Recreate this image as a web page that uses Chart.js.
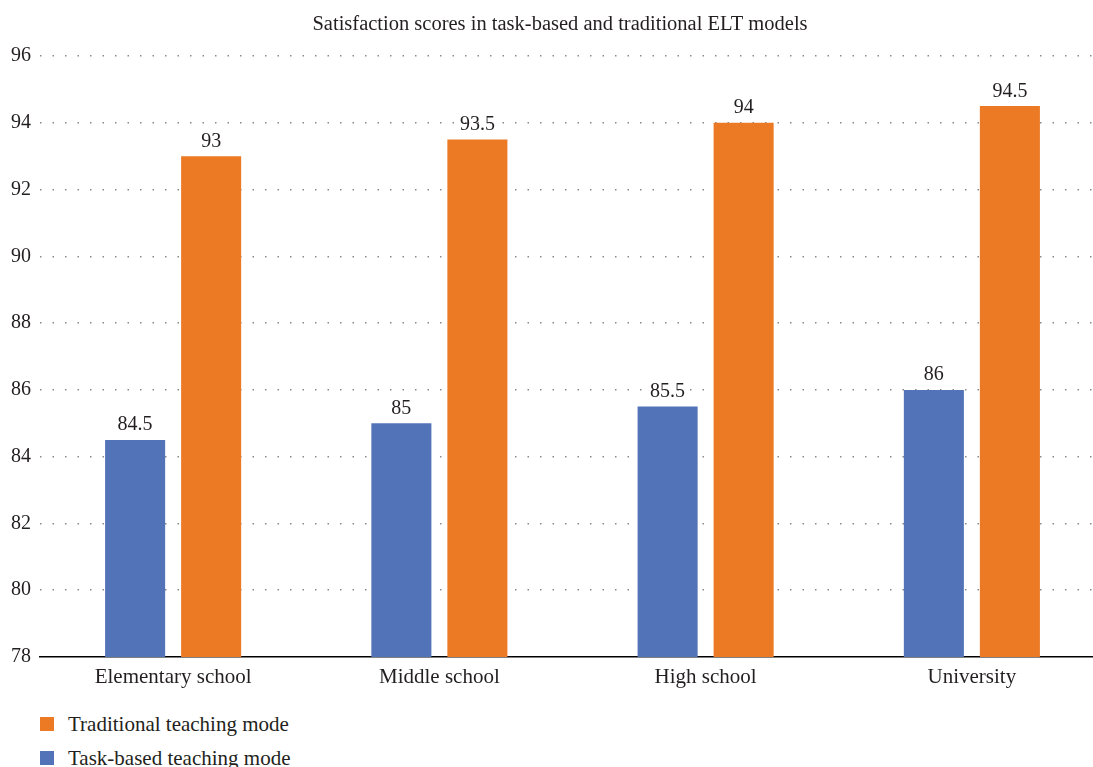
<!DOCTYPE html>
<html>
<head>
<meta charset="utf-8">
<script src="https://cdn.jsdelivr.net/npm/chart.js@4"></script>
<style>
  html, body { margin: 0; padding: 0; background: #fff; }
  #page { position: relative; width: 1093px; height: 767px; overflow: hidden; }
  #box { position: absolute; left: 0; top: 0; width: 1120px; height: 700px; }
  #legend { position: absolute; left: 40px; top: 707px; font-family: "Liberation Serif", serif; font-size: 21px; color: #231f20; }
  #legend .item { display: flex; align-items: center; height: 34px; }
  #legend .sw { width: 14px; height: 14px; margin-right: 14px; }
</style>
</head>
<body>
<div id="page">
  <div id="box"><canvas id="chart"></canvas></div>
  <div id="legend"></div>
</div>
<script>
const titleText = "Satisfaction scores in task-based and traditional ELT models";
const categories = ["Elementary school", "Middle school", "High school", "University"];
const taskBased = [84.5, 85, 85.5, 86];
const traditional = [93, 93.5, 94, 94.5];
const seriesNames = ["Task-based teaching mode", "Traditional teaching mode"];
const seriesColors = ["#5373b9", "#ec7a25"];
const yMin = 78, yMax = 96, yStep = 2;

const serif = "'Liberation Serif', 'Times New Roman', serif";
const textColor = "#231f20";

// value labels above each bar
const valueLabels = {
  id: "valueLabels",
  afterDatasetsDraw(chart) {
    const ctx = chart.ctx;
    ctx.save();
    ctx.font = "20px " + serif;
    ctx.fillStyle = textColor;
    ctx.textAlign = "center";
    ctx.textBaseline = "alphabetic";
    chart.data.datasets.forEach((ds, i) => {
      chart.getDatasetMeta(i).data.forEach((bar, j) => {
        ctx.fillText(String(ds.data[j]), bar.x, bar.y - 9.5);
      });
    });
    ctx.restore();
  }
};

new Chart(document.getElementById("chart"), {
  type: "bar",
  data: {
    labels: categories,
    datasets: [
      { label: seriesNames[0], data: taskBased, backgroundColor: seriesColors[0] },
      { label: seriesNames[1], data: traditional, backgroundColor: seriesColors[1] }
    ]
  },
  options: {
    responsive: true,
    maintainAspectRatio: false,
    animation: false,
    categoryPercentage: 0.571,
    barPercentage: 0.79,
    layout: { padding: 0 },
    plugins: {
      legend: { display: false },
      tooltip: { enabled: false },
      title: {
        display: true,
        text: titleText,
        color: textColor,
        font: { family: serif, size: 20.5, weight: "normal" },
        padding: { top: 12.5, bottom: 18.9 }
      }
    },
    scales: {
      x: {
        grid: { display: false },
        border: { display: true, color: "#000", width: 1.5 },
        ticks: { color: textColor, font: { family: serif, size: 21 }, padding: 0 },
        afterFit(s) { s.height = 43; }
      },
      y: {
        min: yMin,
        max: yMax,
        // dotted horizontal grid lines
        border: { display: false, dash: [1.5, 11] },
        grid: {
          drawTicks: false,
          lineWidth: 1.5,
          color: (c) => (c.tick && c.tick.value === yMin) ? "rgba(0,0,0,0)" : "#8a8a8a"
        },
        ticks: { stepSize: yStep, color: textColor, font: { family: serif, size: 20 }, padding: 9 },
        afterFit(s) { s.width = 40; }
      },
      // empty right-hand margin axis
      yRight: {
        position: "right",
        min: yMin,
        max: yMax,
        grid: { display: false },
        border: { display: false },
        ticks: { display: false },
        afterFit(s) { s.width = 15; }
      }
    }
  },
  plugins: [valueLabels]
});

// legend, listed with the traditional series first
const legend = document.getElementById("legend");
[1, 0].forEach((i) => {
  const item = document.createElement("div");
  item.className = "item";
  const sw = document.createElement("span");
  sw.className = "sw";
  sw.style.background = seriesColors[i];
  const tx = document.createElement("span");
  tx.textContent = seriesNames[i];
  item.appendChild(sw);
  item.appendChild(tx);
  legend.appendChild(item);
});
</script>
</body>
</html>
